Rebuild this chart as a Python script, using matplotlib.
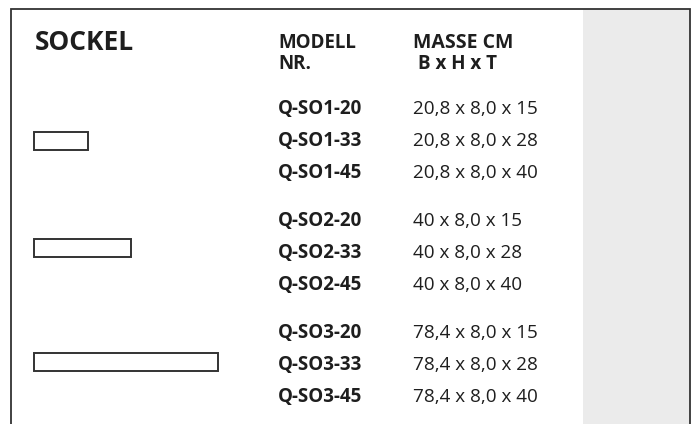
import matplotlib.pyplot as plt
from matplotlib.patches import Rectangle

# Daten
sockel_typen = ['Q-SO1', 'Q-SO2', 'Q-SO3']
tiefen = [15, 28, 40]
tiefen_suffix = ['20', '33', '45']
breiten = [20.8, 40, 78.4]
hoehe = 8.0

def fmt(v):
    s = f'{v:.1f}'.replace('.', ',')
    return s[:-2] if s.endswith(',0') and v >= 30 else s

def main():
    W, H = 696, 424
    fig = plt.figure(figsize=(W / 100, H / 100), dpi=100)
    ax = fig.add_axes([0, 0, 1, 1])
    ax.set_xlim(0, W)
    ax.set_ylim(H, 0)
    ax.axis('off')

    font = 'Open Sans'
    dark = '#1e1e1e'

    # grauer Streifen rechts + Rahmen
    ax.add_patch(Rectangle((583, 9), 107, H, facecolor='#ebebeb', edgecolor='none'))
    ax.plot([11, 11, 690, 690], [H + 5, 9, 9, H + 5], color='#333333', lw=1.3,
            solid_joinstyle='miter', clip_on=False)

    # Kopfzeile
    ax.text(35, 43, 'SOCKEL', fontsize=19, fontweight='bold', family=font,
            color=dark, va='center')
    ax.text(278, 43, 'MODELL', fontsize=13.5, fontweight='bold', family=font,
            color=dark, va='center')
    ax.text(278, 64, 'NR.', fontsize=13.5, fontweight='bold', family=font,
            color=dark, va='center')
    ax.text(413, 43, 'MASSE CM', fontsize=14, fontweight='bold', family=font,
            color=dark, va='center')
    ax.text(418, 64, 'B x H x T', fontsize=13.5, fontweight='bold', family=font,
            color=dark, va='center')

    # Skizze: Breite in px aus der Sockelbreite in cm
    skizze_dy = [-0.5, -5, -3]
    for g, (typ, b) in enumerate(zip(sockel_typen, breiten)):
        y0 = 109 + g * 112
        for r, (t, suf) in enumerate(zip(tiefen, tiefen_suffix)):
            y = y0 + r * 32
            ax.text(278, y, f'{typ}-{suf}', fontsize=13.5, fontweight='bold',
                    family=font, color=dark, va='center')
            ax.text(413, y, f'{fmt(b)} x {fmt(hoehe)} x {t}', fontsize=13.6,
                    family=font, color=dark, va='center')
        yc = y0 + 32 + skizze_dy[g]
        ax.add_patch(Rectangle((33.5, yc - 9), b * 2.26 + 7, 18, facecolor='white',
                               edgecolor='#333333', lw=1.4))

    fig.savefig('out.png', dpi=100)

if __name__ == '__main__':
    main()
